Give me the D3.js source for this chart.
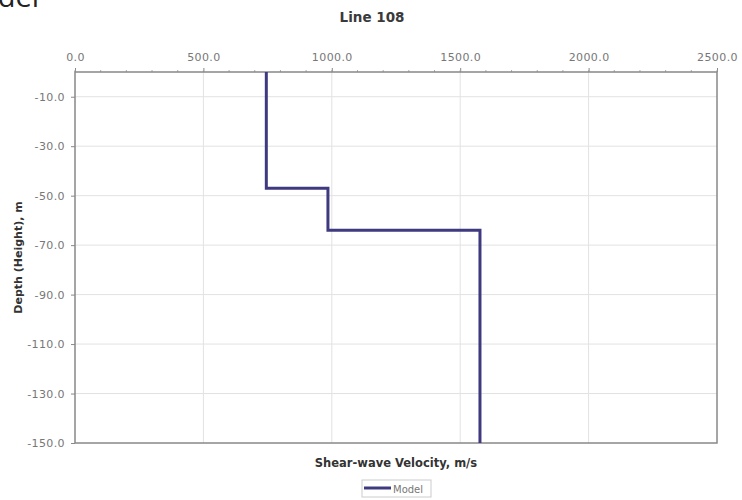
<!DOCTYPE html>
<html>
<head>
<meta charset="utf-8">
<script src="https://cdn.jsdelivr.net/npm/d3@7/dist/d3.min.js"></script>
<style>
  html, body { margin: 0; padding: 0; background: #fff; }
  svg { display: block; font-family: "DejaVu Sans", Verdana, sans-serif; }
</style>
</head>
<body>
<svg id="chart" width="742" height="500"></svg>
<script>
// Velocity model profile: shear-wave velocity (m/s) per layer and layer boundaries (m)
const layerVelocity = [745, 985, 1577];
const layerTop = [0, -47, -64];
const layerBottom = [-47, -64, -150];
const xTicks = [0, 500, 1000, 1500, 2000, 2500];
const yTicks = [-10, -30, -50, -70, -90, -110, -130, -150];
const chartTitle = "Line 108";
const seriesName = "Model";

const svg = d3.select("#chart");
const margin = { left: 75, top: 72, right: 25, bottom: 57 };
const W = 742, H = 500;
const x = d3.scaleLinear().domain([0, 2500]).range([margin.left, W - margin.right]);
const y = d3.scaleLinear().domain([0, -150]).range([margin.top, H - margin.bottom]);
const fmt = d => d.toFixed(1); // plain hyphen for negatives

// Page heading running off the top-left corner
svg.append("text").attr("x", 39).attr("y", 7).attr("text-anchor", "end")
  .attr("font-family", "'Open Sans', 'DejaVu Sans', sans-serif")
  .attr("font-size", 29).attr("fill", "#222").text("Model");

// Chart title
svg.append("text").attr("x", 372).attr("y", 22).attr("text-anchor", "middle")
  .attr("font-size", 13.5).attr("font-weight", "bold").attr("fill", "#3a3a3a").text(chartTitle);

// Grid lines
const grid = svg.append("g");
grid.selectAll("line.v").data(xTicks.slice(1, -1)).join("line")
  .attr("x1", d => x(d)).attr("x2", d => x(d))
  .attr("y1", y(0)).attr("y2", y(-150))
  .attr("stroke", "#e2e2e2").attr("stroke-width", 1);
grid.selectAll("line.h").data(yTicks.slice(0, -1)).join("line")
  .attr("x1", x(0)).attr("x2", x(2500))
  .attr("y1", d => y(d)).attr("y2", d => y(d))
  .attr("stroke", "#e2e2e2").attr("stroke-width", 1);

// Top axis with labels
const xAxis = d3.axisTop(x).tickValues(xTicks).tickFormat(fmt).tickSize(4).tickPadding(7);
const gx = svg.append("g").attr("transform", `translate(0,${y(0)})`).call(xAxis);
gx.select(".domain").remove();
gx.selectAll("line").attr("stroke", "#888");
gx.selectAll("text").attr("font-size", 11).attr("letter-spacing", 0.4).attr("fill", "#777")
  .attr("font-family", "\"DejaVu Sans\", sans-serif");
// minor ticks on top axis
svg.append("g").selectAll("line").data(d3.range(0, 2501, 100)).join("line")
  .attr("x1", d => x(d)).attr("x2", d => x(d))
  .attr("y1", y(0)).attr("y2", y(0) - 2).attr("stroke", "#aaa");

// Left axis with labels
const yAxis = d3.axisLeft(y).tickValues(yTicks).tickFormat(fmt).tickSize(4).tickPadding(6);
const gy = svg.append("g").attr("transform", `translate(${x(0)},0)`).call(yAxis);
gy.select(".domain").remove();
gy.selectAll("line").attr("stroke", "#888");
gy.selectAll("text").attr("font-size", 11).attr("letter-spacing", 0.4).attr("fill", "#777")
  .attr("font-family", "\"DejaVu Sans\", sans-serif");

// Plot frame
svg.append("rect").attr("x", x(0)).attr("y", y(0))
  .attr("width", x(2500) - x(0)).attr("height", y(-150) - y(0))
  .attr("fill", "none").attr("stroke", "#888").attr("stroke-width", 1.5);

// Step profile built from the layer arrays
const pts = [];
layerVelocity.forEach((v, i) => {
  pts.push([v, layerTop[i]]);
  pts.push([v, layerBottom[i]]);
});
const line = d3.line().x(d => x(d[0])).y(d => y(d[1]));
svg.append("path").datum(pts).attr("d", line)
  .attr("fill", "none").attr("stroke", "#3f3a80").attr("stroke-width", 3)
  .attr("stroke-linejoin", "miter");

// Axis titles
svg.append("text").attr("x", 396).attr("y", 467).attr("text-anchor", "middle")
  .attr("font-size", 11.5).attr("font-weight", "bold").attr("fill", "#333")
  .text("Shear-wave Velocity, m/s");
svg.append("text").attr("transform", `translate(22,${(y(0) + y(-150)) / 2}) rotate(-90)`)
  .attr("text-anchor", "middle").attr("font-size", 11).attr("font-weight", "bold").attr("fill", "#333")
  .text("Depth (Height), m");

// Legend
const lg = svg.append("g").attr("transform", "translate(362,480)");
lg.append("rect").attr("width", 69).attr("height", 17).attr("fill", "#fff").attr("stroke", "#ccc");
lg.append("line").attr("x1", 2).attr("x2", 29).attr("y1", 8).attr("y2", 8)
  .attr("stroke", "#3f3a80").attr("stroke-width", 3);
lg.append("text").attr("x", 31).attr("y", 12.5).attr("font-size", 10).attr("fill", "#777").text(seriesName);
</script>
</body>
</html>
